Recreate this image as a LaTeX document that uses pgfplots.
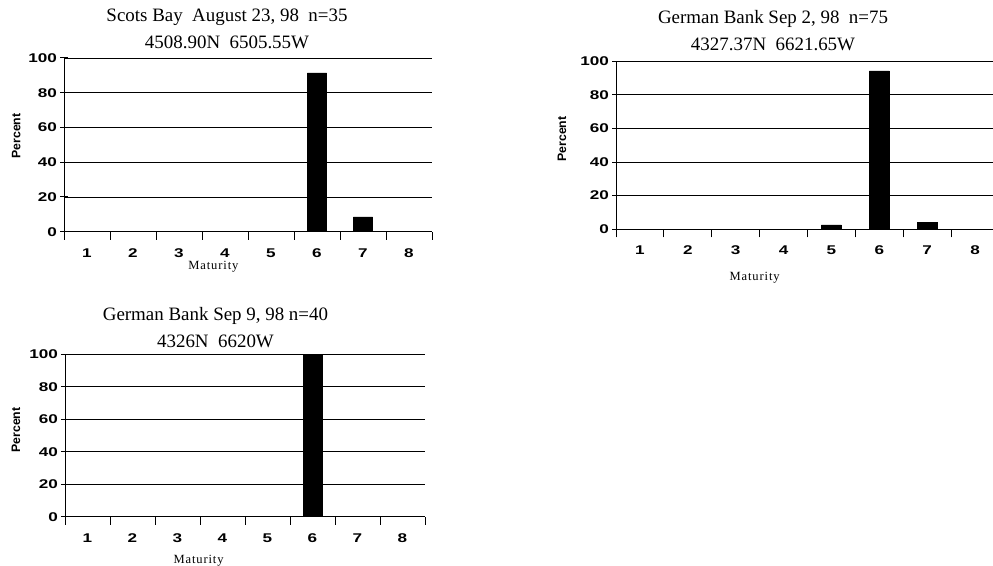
\documentclass[border=0pt]{standalone}
\usepackage{pgfplots}
\pgfplotsset{compat=1.18}
\usepackage{fontspec}
\setmainfont{Liberation Serif}
\newfontfamily\tickfont[FakeStretch=1.35]{Liberation Sans}
\newfontfamily\labfont{Liberation Sans}
\newfontfamily\matfont[LetterSpace=7]{Liberation Serif}

\pgfplotsset{
  panel/.style={
    scale only axis,
    axis lines*=left,
    axis line style={black, line width=0.7pt},
    xmin=0.5, xmax=8.5, ymin=0, ymax=100,
    xtick={1,...,8},
    ytick={0,20,...,100},
    minor xtick={0.5,1.5,...,8.5},
    major x tick style={draw=none},
    minor x tick style={black, line width=0.7pt},
    y tick style={black, line width=0.7pt},
    tick align=center,
    major tick length=6pt,
    minor tick length=6pt,
    ymajorgrids,
    major grid style={black, line width=0.6pt},
    /pgf/number format/assume math mode=true,
    ticklabel style={font=\tickfont\bfseries\fontsize{9.5}{11}\selectfont},
    xticklabel style={yshift=-3pt},
    yticklabel style={xshift=1.2pt},
    ybar, bar width=0.42,
    title style={anchor=center, align=center, font=\fontsize{14.2}{20.25}\selectfont},
    xlabel style={anchor=center, font=\matfont\fontsize{9.4}{11}\selectfont},
    ylabel style={anchor=center, font=\labfont\bfseries\fontsize{9.2}{11}\selectfont},
    xlabel={Maturity},
    ylabel={Percent},
  }
}

\begin{document}
\begin{tikzpicture}
\useasboundingbox (0,0) rectangle (744.75pt,423.75pt);

% Panel 1
\begin{axis}[panel,
  at={(48pt,249.98pt)}, anchor=south west,
  width=276pt, height=130.3pt,
  title={Scots Bay\ \ August 23, 98\ \ n=35\\4508.90N\ \ 6505.55W},
  title style={at={(axis description cs:0.443,1.124)}},
  xlabel style={at={(axis description cs:0.406,-0.20)}},
  ylabel style={at={(axis description cs:-0.130,0.551)}},
]
\addplot[fill=black, draw=black] coordinates {(6,91.43) (7,8.57)};
\draw[gray!70, line width=0.7pt] (rel axis cs:1,0) -- (rel axis cs:1,1);
\end{axis}

% Panel 2
\begin{axis}[panel,
  at={(462pt,251.78pt)}, anchor=south west,
  width=287.25pt, height=126.2pt,
  title={German Bank Sep 2, 98\ \ n=75\\4327.37N\ \ 6621.65W},
  title style={at={(axis description cs:0.41,1.133)}},
  xlabel style={at={(axis description cs:0.362,-0.29)}},
  ylabel style={at={(axis description cs:-0.141,0.537)}},
]
\addplot[fill=black, draw=black] coordinates {(5,2.67) (6,94.2) (7,4.3)};
\end{axis}

% Panel 3
\begin{axis}[panel,
  at={(48.75pt,36.2pt)}, anchor=south west,
  width=270pt, height=121.8pt,
  title={German Bank Sep 9, 98 n=40\\4326N\ \ 6620W},
  title style={at={(axis description cs:0.418,1.114)}},
  xlabel style={at={(axis description cs:0.371,-0.27)}},
  ylabel style={at={(axis description cs:-0.136,0.534)}},
]
\addplot[fill=black, draw=black] coordinates {(6,100)};
\draw[gray!70, line width=0.7pt] (rel axis cs:1,0) -- (rel axis cs:1,1);
\end{axis}
\end{tikzpicture}
\end{document}
